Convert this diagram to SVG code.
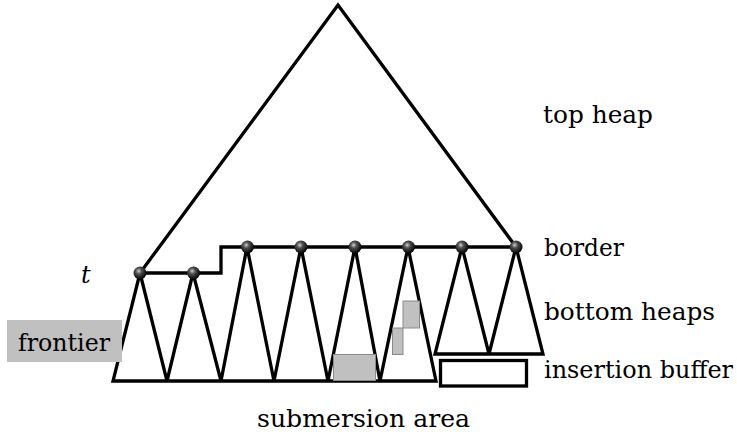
<svg xmlns="http://www.w3.org/2000/svg" width="737" height="435" viewBox="0 0 737 435">
<style>
.ln{fill:none;stroke:#000;stroke-width:3.3;stroke-linejoin:miter;stroke-linecap:butt}
.gray{fill:#c0c0c0;stroke:#8a8a8a;stroke-width:1}
.ball{fill:url(#bg)}
.lbl{font-family:"DejaVu Serif","Liberation Serif",serif;font-size:24px;fill:#000}
</style>
<defs>
<radialGradient id="bg" cx="0.4" cy="0.35" r="0.65">
<stop offset="0" stop-color="#d0d0d0"/>
<stop offset="0.35" stop-color="#505050"/>
<stop offset="1" stop-color="#000"/>
</radialGradient>
</defs>
<rect width="737" height="435" fill="#fff"/>
<g id="connectors">
<polyline class="ln" points="140,273 338,5 516,247"/>
<polyline class="ln" points="140,273 221,273 221,247 516,247"/>
<polyline class="ln" points="140,273 113,381 436,381 408,247"/>
<polyline class="ln" points="140,273 167,381 193,273 221,381 247,247 274,381 301,247 328,381 355,247 380,381 408,247"/>
<polyline class="ln" points="462,247 435,354 543,354 516,247 489,354 462,247"/>
</g>
<g id="buffers">
<rect class="gray" x="333.5" y="354.5" width="42" height="26"/>
<rect class="gray" x="403" y="301" width="16.5" height="27"/>
<rect class="gray" x="392.5" y="328" width="10.5" height="26.5"/>
<rect id="insertion-buffer" class="ln" x="440.5" y="360.5" width="86" height="25.5"/>
</g>
<g id="frontier">
<rect x="7" y="320" width="115" height="42" fill="#c0c0c0"/>
<text class="lbl" x="18" y="351" textLength="92" lengthAdjust="spacingAndGlyphs">frontier</text>
</g>
<g id="nodes">
<circle id="n1" class="ball" cx="140" cy="273" r="6.5"/>
<circle id="n2" class="ball" cx="193.5" cy="273" r="6.5"/>
<circle id="n3" class="ball" cx="247.5" cy="247" r="6.5"/>
<circle id="n4" class="ball" cx="301" cy="247" r="6.5"/>
<circle id="n5" class="ball" cx="355" cy="247" r="6.5"/>
<circle id="n6" class="ball" cx="408.5" cy="247" r="6.5"/>
<circle id="n7" class="ball" cx="462" cy="247" r="6.5"/>
<circle id="n8" class="ball" cx="516" cy="247" r="6.5"/>
</g>
<g id="labels">
<text class="lbl" x="81" y="283" font-style="italic">t</text>
<text class="lbl" x="543" y="123" textLength="110" lengthAdjust="spacingAndGlyphs">top heap</text>
<text class="lbl" x="544" y="256" textLength="80" lengthAdjust="spacingAndGlyphs">border</text>
<text class="lbl" x="544" y="320" textLength="171" lengthAdjust="spacingAndGlyphs">bottom heaps</text>
<text class="lbl" x="544" y="378" textLength="189" lengthAdjust="spacingAndGlyphs">insertion buffer</text>
<text class="lbl" x="257" y="427" textLength="213" lengthAdjust="spacingAndGlyphs">submersion area</text>
</g>
</svg>
